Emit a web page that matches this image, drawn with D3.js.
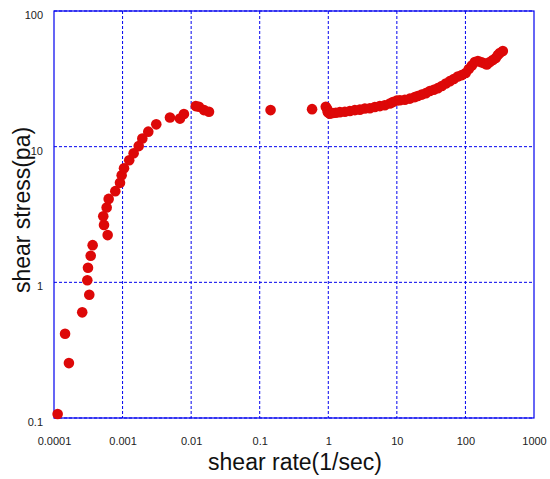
<!DOCTYPE html>
<html>
<head>
<meta charset="utf-8">
<script src="https://cdn.jsdelivr.net/npm/d3@7"></script>
<style>
  html, body { margin: 0; padding: 0; background: #fff; }
  svg text { font-family: "Liberation Sans", Arial, sans-serif; }
</style>
</head>
<body>
<svg id="chart" width="550" height="479"></svg>
<script>
// ---- data ----
const shearRate = [
  1.13e-4, 1.45e-4, 1.65e-4, 2.58e-4, 3.27e-4, 3.06e-4, 3.13e-4, 3.43e-4, 3.66e-4,
  6.06e-4, 5.36e-4, 5.23e-4, 5.86e-4, 6.27e-4, 7.83e-4, 9.17e-4, 9.70e-4, 1.05e-3,
  1.25e-3, 1.45e-3, 1.72e-3, 1.94e-3, 2.37e-3, 3.10e-3, 4.91e-3, 6.87e-3, 7.85e-3,
  1.17e-2, 1.30e-2, 1.54e-2, 1.82e-2,
  0.144, 0.58, 0.92, 0.96, 0.99,
  0.986, 1.055, 1.167, 1.291, 1.476, 1.746, 2.065, 2.443, 2.890, 3.42, 4.04, 4.78,
  5.65, 6.68, 7.91, 8.75, 10.0, 11.1, 13.1, 15.5, 18.3, 20.2, 23.1, 26.5, 30.3,
  34.6, 39.6, 45.3, 51.8, 59.3, 67.7, 77.4, 88.7, 101, 112, 124, 137, 152, 168,
  185, 205, 227, 251, 277, 297, 317, 351
];
const shearStress = [
  0.107, 0.418, 0.254, 0.601, 0.81, 1.035, 1.28, 1.57, 1.88,
  2.23, 2.65, 3.07, 3.56, 4.12, 4.70, 5.41, 6.16, 6.94,
  7.95, 8.95, 10.1, 11.5, 12.9, 14.6, 16.4, 16.1, 17.4,
  19.9, 19.7, 18.6, 18.1,
  18.6, 18.9, 19.7, 19.0, 18.0,
  17.97, 17.5, 17.7, 17.8, 17.97, 18.1, 18.3, 18.6, 18.75, 19.1, 19.2, 19.6,
  19.9, 20.2, 20.8, 21.3, 21.9, 22.0, 22.2, 22.6, 23.2, 23.6, 24.2, 24.8, 25.7,
  26.3, 27.0, 28.0, 29.2, 30.4, 31.5, 32.9, 33.7, 34.9, 37.3, 39.6, 42.0, 42.8, 42.0,
  41.3, 40.3, 42.0, 43.5, 45.0, 47.4, 49.0, 50.7
];
const xTicks = [0.0001, 0.001, 0.01, 0.1, 1, 10, 100, 1000];
const xTickLabels = ["0.0001", "0.001", "0.01", "0.1", "1", "10", "100", "1000"];
const yTicks = [0.1, 1, 10, 100];
const yTickLabels = ["0.1", "1", "10", "100"];
const xTitle = "shear rate(1/sec)";
const yTitle = "shear stress(pa)";

// ---- layout ----
const svg = d3.select("#chart");
const mLeft = 54, mRight = 534, mTop = 11, mBottom = 418;

const x = d3.scaleLog().domain([1e-4, 1e3]).range([mLeft, mRight]);
const y = d3.scaleLog().domain([0.1, 100]).range([mBottom, mTop]);

const blue = "#0000ee";

// grid
const grid = svg.append("g");
grid.selectAll("line.vx").data(xTicks.slice(1, -1)).join("line")
  .attr("x1", d => x(d)).attr("x2", d => x(d))
  .attr("y1", mTop).attr("y2", mBottom)
  .attr("stroke", blue).attr("stroke-width", 1).attr("stroke-dasharray", "3,2");
grid.selectAll("line.hy").data(yTicks).join("line")
  .attr("y1", d => y(d)).attr("y2", d => y(d))
  .attr("x1", mLeft).attr("x2", mRight)
  .attr("stroke", blue).attr("stroke-width", 1).attr("stroke-dasharray", "3,2");

// frame
svg.append("rect")
  .attr("x", mLeft).attr("y", mTop)
  .attr("width", mRight - mLeft).attr("height", mBottom - mTop)
  .attr("fill", "none").attr("stroke", blue).attr("stroke-width", 1.2);

// axes (tick labels only, via d3 axes)
const xAxis = d3.axisBottom(x).tickValues(xTicks)
  .tickFormat((d, i) => xTickLabels[i]).tickSize(0).tickPadding(0);
const gx = svg.append("g").attr("transform", `translate(0,${mBottom + 19})`).call(xAxis);
gx.select(".domain").remove();
gx.selectAll("text").attr("font-size", 11).attr("fill", "#222")
  .attr("font-family", "Liberation Sans, Arial, sans-serif");

const yAxis = d3.axisLeft(y).tickValues(yTicks)
  .tickFormat((d, i) => yTickLabels[i]).tickSize(0).tickPadding(0);
const gy = svg.append("g").attr("transform", `translate(${mLeft - 11},4)`).call(yAxis);
gy.select(".domain").remove();
gy.selectAll("text").attr("font-size", 11).attr("fill", "#222")
  .attr("font-family", "Liberation Sans, Arial, sans-serif");

// points
const pts = shearRate.map((d, i) => [d, shearStress[i]]);
svg.append("g").selectAll("circle").data(pts).join("circle")
  .attr("cx", d => x(d[0])).attr("cy", d => y(d[1]))
  .attr("r", 5.3).attr("fill", "#dd0808");

// titles
svg.append("text")
  .attr("x", 295).attr("y", 470)
  .attr("text-anchor", "middle").attr("font-size", 23).attr("fill", "#111")
  .text(xTitle);
svg.append("text")
  .attr("transform", `translate(30,210) rotate(-90)`)
  .attr("text-anchor", "middle").attr("font-size", 23).attr("fill", "#111")
  .text(yTitle);
</script>
</body>
</html>
